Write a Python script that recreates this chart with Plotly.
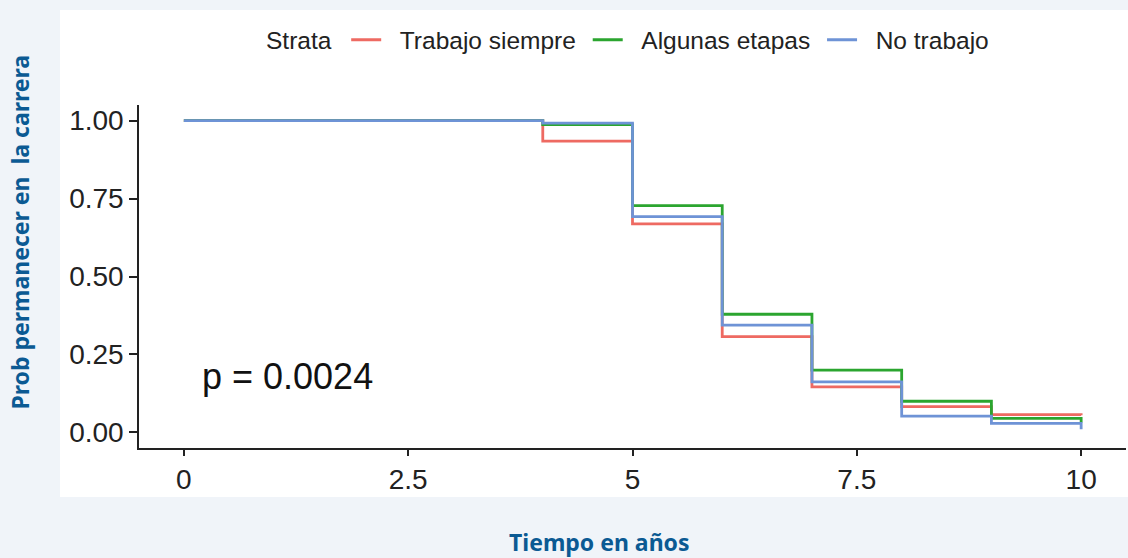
import plotly.graph_objects as go

# Kaplan-Meier style step curves
tiempo = [0, 4, 5, 6, 7, 8, 9, 10]
trabajo_siempre = [1.0, 0.934, 0.669, 0.307, 0.146, 0.083, 0.057, 0.055]
algunas_etapas = [1.0, 0.987, 0.727, 0.379, 0.200, 0.100, 0.045, 0.032]
no_trabajo = [1.0, 0.992, 0.692, 0.344, 0.162, 0.052, 0.029, 0.010]

x_ticks = [0, 2.5, 5, 7.5, 10]
x_labels = ["0", "2.5", "5", "7.5", "10"]
y_ticks = [0, 0.25, 0.5, 0.75, 1.0]
y_labels = ["0.00", "0.25", "0.50", "0.75", "1.00"]

series = [
    ("Trabajo siempre", trabajo_siempre, "#EE6A62"),
    ("Algunas etapas", algunas_etapas, "#2BA52F"),
    ("No trabajo", no_trabajo, "#6E93D6"),
]

NB = "\u00a0"

fig = go.Figure()
for name, vals, col in series:
    fig.add_trace(go.Scatter(
        x=tiempo, y=vals, name=NB * 2 + name + NB, mode="lines",
        line=dict(color=col, width=2.8, shape="hv"),
    ))

tick_font = dict(family="Liberation Sans, Arial, sans-serif", size=28, color="#222222")
title_font = dict(family="Noto Sans, Open Sans, sans-serif", size=23, color="#0B5A93")
legend_font = dict(family="Liberation Sans, Arial", size=24.5, color="#222222")

fig.update_layout(
    width=1128, height=558,
    margin=dict(l=139, r=2, t=105, b=110),
    paper_bgcolor="#F0F4F9",
    plot_bgcolor="white",
    showlegend=True,
    legend=dict(
        orientation="h", x=0.5, xanchor="center", y=1.19, yanchor="middle",
        title=dict(text="Strata" + NB, side="left", font=legend_font),
        font=legend_font,
        bgcolor="rgba(0,0,0,0)",
    ),
    xaxis=dict(
        range=[-0.5, 10.5], tickvals=x_ticks, ticktext=x_labels,
        showgrid=False, zeroline=False, showline=True, linecolor="#222222", linewidth=1.5,
        ticks="outside", ticklen=6, tickwidth=1.5, tickcolor="#222222", tickfont=tick_font,
    ),
    yaxis=dict(
        range=[-0.05, 1.05], tickvals=y_ticks, ticktext=y_labels,
        showgrid=False, zeroline=False, showline=True, linecolor="#222222", linewidth=1.5,
        ticks="outside", ticklen=8, tickwidth=1.5, tickcolor="#222222", tickfont=tick_font,
    ),
    shapes=[dict(
        type="rect", xref="paper", yref="paper", x0=-0.08, x1=1.01, y0=-0.143, y1=1.277,
        fillcolor="white", line=dict(width=0), layer="below",
    )],
    annotations=[
        dict(text="p = 0.0024", x=0.18, y=0.178, xref="x", yref="y", xanchor="left",
             yanchor="middle", showarrow=False,
             font=dict(family="Liberation Sans, Arial", size=36, color="#111111")),
        dict(text="<b>Tiempo en años</b>", x=0.467, y=-0.275, xref="paper", yref="paper",
             xanchor="center", yanchor="middle", showarrow=False, font=title_font),
        dict(text="<b>Prob permanecer en  la carrera</b>", x=-0.121, y=0.63, xref="paper", yref="paper",
             xanchor="center", yanchor="middle", showarrow=False, textangle=-90, font=title_font),
    ],
)

# the page body has a default 8px margin; drop it so the figure sits at the corner
fig.write_html("out.html", config={"displayModeBar": False},
               post_script="document.body.style.margin='0';")
